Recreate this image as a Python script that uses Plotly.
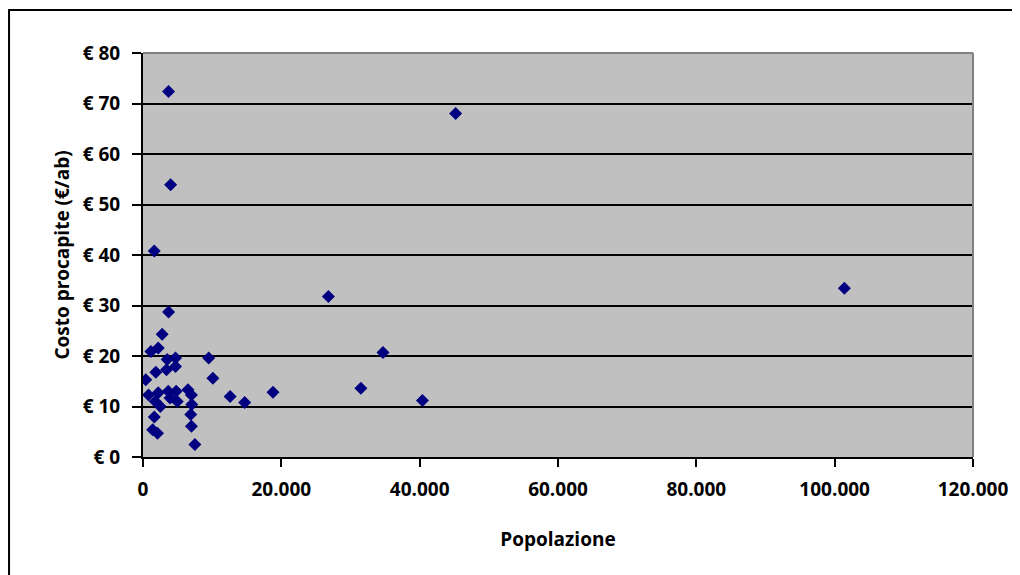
import plotly.graph_objects as go

# Popolazione (abitanti) e costo procapite (€/ab)
popolazione = [3700, 3990, 1630, 3700, 2770, 1150, 2200, 3500, 4700, 4700,
               3400, 1850, 400, 9500, 10100, 800, 2200, 3650, 4800, 6500,
               7000, 1780, 2500, 4950, 3900, 7050, 6900, 1640, 7000, 1400,
               2100, 7500, 12600, 14700, 18800, 31500, 40400, 26800, 34700,
               45200, 101400]
costo = [72.4, 53.9, 40.8, 28.7, 24.3, 20.9, 21.6, 19.3, 19.6, 17.9,
         17.3, 16.8, 15.3, 19.6, 15.6, 12.3, 12.7, 13.0, 13.0, 13.3,
         12.3, 11.0, 10.0, 11.0, 11.7, 10.4, 8.4, 7.9, 6.1, 5.4,
         4.7, 2.5, 12.0, 10.8, 12.8, 13.6, 11.2, 31.8, 20.7,
         68.0, 33.4]

font_fam = "Open Sans, Liberation Sans, sans-serif"

fig = go.Figure()

fig.add_trace(go.Scatter(
    x=popolazione, y=costo,
    mode="markers",
    marker=dict(symbol="diamond", size=10, color="#000080", line=dict(width=0)),
    showlegend=False
))

# la pagina ha 8px di margine sul body, quindi figura un po' piu' piccola
fig.update_layout(
    width=1012, height=567,
    margin=dict(l=135, r=47, t=45, b=118),
    paper_bgcolor="white",
    plot_bgcolor="#C0C0C0",
    separators=",.",
    font=dict(family=font_fam, size=19, color="black", weight="bold"),
    xaxis=dict(
        range=[0, 120000], dtick=20000, tickformat=",d",
        showgrid=False, zeroline=False,
        showline=True, linecolor="black", linewidth=2,
        ticks="outside", ticklen=8, tickwidth=1.5, tickcolor="black",
        title=dict(text="Popolazione", font=dict(size=19, weight="bold"), standoff=32),
        ticklabelstandoff=6,
    ),
    yaxis=dict(
        range=[0, 80], dtick=10, tickprefix="€ ",
        showgrid=True, gridcolor="black", gridwidth=2, zeroline=False,
        showline=True, linecolor="black", linewidth=2,
        ticks="outside", ticklen=9, tickwidth=1.5, tickcolor="black",
        title=dict(text="Costo procapite (€/ab)", font=dict(size=19, weight="bold"), standoff=8),
        ticklabelstandoff=8,
    ),
    shapes=[
        # bordo superiore e destro dell'area del grafico
        dict(type="line", xref="paper", yref="paper", x0=0, x1=1, y0=1, y1=1,
             line=dict(color="#808080", width=2), layer="above"),
        dict(type="line", xref="paper", yref="paper", x0=1, x1=1, y0=0, y1=1,
             line=dict(color="#808080", width=2), layer="above"),
        # cornice esterna
        dict(type="rect", xref="paper", yref="paper",
             x0=-0.1614, x1=1.2, y0=-0.4, y1=1.1064,
             line=dict(color="black", width=2), fillcolor="rgba(0,0,0,0)"),
    ],
)

fig.write_html("out.html")
